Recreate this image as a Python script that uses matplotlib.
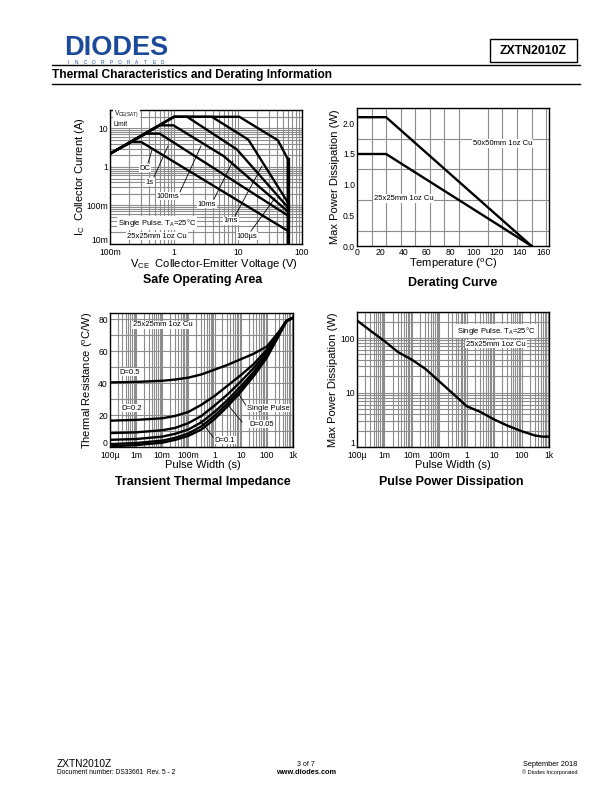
import numpy as np
import matplotlib
matplotlib.use('Agg')
import matplotlib.pyplot as plt
from matplotlib.patches import Rectangle
from matplotlib.lines import Line2D
from matplotlib.ticker import FixedLocator, NullFormatter, LogLocator
from matplotlib.transforms import ScaledTranslation

plt.rcParams['font.family'] = ['Liberation Sans', 'DejaVu Sans']
plt.rcParams['mathtext.fontset'] = 'custom'
plt.rcParams['mathtext.rm'] = 'Liberation Sans'
plt.rcParams['mathtext.it'] = 'Liberation Sans'

# ---------------- Safe Operating Area data (V, A) ----------------
soa_dc_v = [0.1, 0.218, 0.31, 60]
soa_dc_i = [2.2, 4.4, 4.4, 0.022]
soa_1s_v = [0.1, 0.365, 0.6, 60]
soa_1s_i = [2.2, 7.3, 7.3, 0.055]
soa_100ms_v = [0.1, 0.6, 0.98, 6.0, 60]
soa_100ms_i = [2.2, 12, 12, 1.9, 0.07]
soa_10ms_v = [0.1, 1.0, 1.6, 9.6, 60]
soa_10ms_i = [2.2, 20, 20, 2.85, 0.09]
soa_1ms_v = [0.1, 1.0, 3.9, 14.5, 60]
soa_1ms_i = [2.2, 20, 20, 5.1, 0.12]
soa_100us_v = [0.1, 1.0, 10.5, 42, 60, 60]
soa_100us_i = [2.2, 20, 20, 4.9, 1.6, 0.01]

# ---------------- Derating data ----------------
der_t = [0, 25, 150]
der_50 = [2.1, 2.1, 0.0]
der_25 = [1.5, 1.5, 0.0]

# ---------------- Transient thermal impedance (s, degC/W) ----------------
tti_t = [1e-4, 1e-3, 1e-2, 3.16e-2, 1e-1, 3.16e-1, 1, 3.16, 10, 31.6, 100, 316, 562, 1000]
tti_d05 = [40.5, 40.8, 41.5, 42.3, 43.5, 45.5, 48.5, 51.5, 55, 58.5, 63, 73, 79, 81]
tti_d02 = [16.5, 17, 18, 19.5, 22, 26.5, 32, 38.5, 45, 52, 61, 73, 79, 81]
tti_d01 = [8.7, 9.2, 10.5, 12, 15, 19.5, 26, 33, 41, 49.5, 59.5, 72.5, 79, 81]
tti_d005 = [4.5, 5, 6.5, 8.3, 11, 15.5, 22, 29.5, 38, 47, 58, 72, 79, 81]
tti_d002 = [1.8, 2.5, 4, 5.8, 8.5, 13, 19.5, 27.5, 36, 45.5, 57, 71.5, 79, 81]
tti_single = [0.4, 1.2, 2.7, 4.5, 7, 11, 17.5, 25.5, 34.5, 44.5, 56, 71, 79, 81]

# ---------------- Pulse power dissipation (s, W) ----------------
ppd_t = [1e-4, 3.16e-4, 1e-3, 3.16e-3, 1e-2, 3.16e-2, 1e-1, 3.16e-1, 1, 3.16, 10, 31.6, 100, 316, 562, 1000]
ppd_p = [210, 135, 88, 55, 40, 27, 16, 9.5, 5.6, 4.4, 3.2, 2.45, 1.95, 1.62, 1.55, 1.55]

# tick labels
soa_xlabels = ['100m', '1', '10', '100']
soa_ylabels = ['10m', '100m', '1', '10']
time_labels = ['100\u00b5', '1m', '10m', '100m', '1', '10', '100', '1k']

W, H = 612, 792
fig = plt.figure(figsize=(W / 100, H / 100), dpi=100)

def fx(x):
    return x / W

def fy(y):
    return 1 - y / H

def ax_at(l, t, r, b):
    return fig.add_axes([l / W, 1 - b / H, (r - l) / W, (b - t) / H])

GRID = '#8c8c8c'
CLW = 1.7
TICKFS = 6.2
LABFS = 8.0
TITFS = 8.9

def style(ax):
    for s in ax.spines.values():
        s.set_linewidth(1.0)
        s.set_color('black')
    ax.tick_params(which='both', length=0, pad=1.5, labelsize=TICKFS)

def log_minor_grid(axis_obj):
    axis_obj.set_minor_locator(LogLocator(base=10, subs=np.arange(2, 10), numticks=20))
    axis_obj.set_minor_formatter(NullFormatter())

def lift_first_ylabel(ax, pts=3.0):
    lab = ax.get_yticklabels()[0]
    lab.set_transform(lab.get_transform() + ScaledTranslation(0, pts / 72, fig.dpi_scale_trans))

# ---------------- Header ----------------
fig.text(fx(64), fy(55), 'DIODES', fontsize=19.5, fontweight='bold', color='#1b4a9b',
         ha='left', va='baseline', family='Liberation Sans')
for k, ch in enumerate('INCORPORATED'):
    fig.text(fx(68 + k * 8.6), fy(62.2), ch, fontsize=3.4, color='#1b4a9b',
             ha='center', va='center')
fig.patches.append(Rectangle((fx(490), fy(62)), (577 - 490) / W, (62 - 39) / H,
                             transform=fig.transFigure, fill=False, lw=1.0, ec='black'))
fig.text(fx(533), fy(50.5), 'ZXTN2010Z', fontsize=8.8, fontweight='bold', ha='center', va='center')
fig.add_artist(Line2D([fx(52), fx(580)], [fy(65), fy(65)], lw=1.0, color='black'))
fig.text(fx(52), fy(75), 'Thermal Characteristics and Derating Information', fontsize=8.6,
         fontweight='bold', ha='left', va='center')
fig.add_artist(Line2D([fx(52), fx(580)], [fy(84), fy(84)], lw=1.0, color='black'))

# ---------------- Safe Operating Area ----------------
ax1 = ax_at(110, 110, 302, 244)
ax1.set_xscale('log'); ax1.set_yscale('log')
ax1.set_xlim(0.1, 100); ax1.set_ylim(0.01, 30)
ax1.xaxis.set_major_locator(FixedLocator([0.1, 1, 10, 100]))
ax1.yaxis.set_major_locator(FixedLocator([0.01, 0.1, 1, 10]))
ax1.set_xticklabels(soa_xlabels); ax1.set_yticklabels(soa_ylabels)
log_minor_grid(ax1.xaxis); log_minor_grid(ax1.yaxis)
ax1.grid(True, which='both', color=GRID, lw=0.8)
style(ax1)
ax1.tick_params(axis='x', pad=3)
lift_first_ylabel(ax1)
for v, i in [(soa_dc_v, soa_dc_i), (soa_1s_v, soa_1s_i), (soa_100ms_v, soa_100ms_i),
             (soa_10ms_v, soa_10ms_i), (soa_1ms_v, soa_1ms_i), (soa_100us_v, soa_100us_i)]:
    ax1.plot(v, i, color='black', lw=CLW, solid_joinstyle='miter', zorder=3)
ax1.plot([60, 60], [0.01, 1.6], color='black', lw=2.4, zorder=3)

def soa_pt(x, y):
    return ((x - 110) / 192, (244 - y) / 134)

bb = dict(facecolor='white', edgecolor='none', pad=0.6)
ax1.text(*soa_pt(114, 118), 'V$_{\\rm CE(SAT)}$\nLimit', transform=ax1.transAxes, fontsize=4.8,
         ha='left', va='center', bbox=bb, zorder=4, linespacing=1.3)
soa_labels = [('DC', (145, 168), (148, 163), (152, 150)),
              ('1s', (150, 182), (154, 177), (168, 146)),
              ('100ms', (168, 196), (180, 192), (201, 146)),
              ('10ms', (207, 204), (214, 199), (233, 161)),
              ('1ms', (231, 221), (235, 216), (262, 166)),
              ('100\u00b5s', (247, 236), (251, 231), (275, 198))]
for txt, lp, p0, p1 in soa_labels:
    ax1.plot([soa_pt(*p0)[0], soa_pt(*p1)[0]], [soa_pt(*p0)[1], soa_pt(*p1)[1]],
             transform=ax1.transAxes, color='black', lw=0.6, zorder=4)
    ax1.text(*soa_pt(*lp), txt, transform=ax1.transAxes, fontsize=5.5, ha='center', va='center',
             bbox=bb, zorder=5)
ax1.text(*soa_pt(157, 223), 'Single Pulse. T$_{\\rm A}$=25\u00b0C', transform=ax1.transAxes,
         fontsize=5.5, ha='center', va='center', bbox=bb, zorder=5)
ax1.text(*soa_pt(157, 236), '25x25mm 1oz Cu', transform=ax1.transAxes,
         fontsize=5.5, ha='center', va='center', bbox=bb, zorder=5)
fig.text(fx(80), fy(177), 'I$_{\\rm C}$  Collector Current (A)', rotation=90, fontsize=LABFS,
         ha='center', va='center')
fig.text(fx(214), fy(264), 'V$_{\\rm CE}$  Collector-Emitter Voltage (V)', fontsize=LABFS,
         ha='center', va='center')
fig.text(fx(203), fy(280), 'Safe Operating Area', fontsize=TITFS, fontweight='bold',
         ha='center', va='center')

# ---------------- Derating Curve ----------------
ax2 = ax_at(357, 108, 549, 246)
ax2.set_xlim(0, 165); ax2.set_ylim(0, 2.25)
ax2.set_xticks(np.arange(0, 161, 20))
ax2.set_yticks([0, 0.5, 1.0, 1.5, 2.0])
ax2.set_yticklabels(['0.0', '0.5', '1.0', '1.5', '2.0'])
ax2.set_xticks(np.arange(0, 165, 12.5), minor=True)
ax2.set_yticks(np.arange(0, 2.26, 0.25), minor=True)
ax2.grid(False)
ax2.grid(True, which='minor', color=GRID, lw=0.8)
style(ax2)
ax2.plot(der_t, der_50, color='black', lw=CLW, zorder=3)
ax2.plot(der_t, der_25, color='black', lw=CLW, zorder=3)
ax2.text(125, 1.67, '50x50mm 1oz Cu', fontsize=5.5, ha='center', va='center', bbox=bb, zorder=4)
ax2.text(40, 0.78, '25x25mm 1oz Cu', fontsize=5.5, ha='center', va='center', bbox=bb, zorder=4)
fig.text(fx(335), fy(177), 'Max Power Dissipation (W)', rotation=90, fontsize=LABFS,
         ha='center', va='center')
fig.text(fx(453), fy(264), 'Temperature ($^{\\rm o}$C)', fontsize=LABFS, ha='center', va='center')
fig.text(fx(453), fy(283), 'Derating Curve', fontsize=TITFS, fontweight='bold',
         ha='center', va='center')

# ---------------- Transient Thermal Impedance ----------------
ax3 = ax_at(110, 313, 293, 447)
ax3.set_xscale('log')
ax3.set_xlim(1e-4, 1e3); ax3.set_ylim(0, 84)
ax3.xaxis.set_major_locator(FixedLocator([1e-4, 1e-3, 1e-2, 1e-1, 1, 10, 100, 1000]))
ax3.set_xticklabels(time_labels)
log_minor_grid(ax3.xaxis)
ax3.set_yticks([0, 20, 40, 60, 80])
ax3.set_yticks(np.arange(0, 85, 10), minor=True)
ax3.grid(True, which='both', color=GRID, lw=0.8)
style(ax3)
ax3.tick_params(axis='x', pad=3)
lift_first_ylabel(ax3)
for r in [tti_d05, tti_d02, tti_d01, tti_d005, tti_d002, tti_single]:
    ax3.plot(tti_t, r, color='black', lw=CLW, zorder=3)

def tti_pt(x, y):
    return ((x - 110) / 183, (447 - y) / 134)

ax3.text(*tti_pt(163, 325), '25x25mm 1oz Cu', transform=ax3.transAxes, fontsize=5.5,
         ha='center', va='center', bbox=bb, zorder=5)
ax3.text(*tti_pt(130, 372), 'D=0.5', transform=ax3.transAxes, fontsize=5.5,
         ha='center', va='center', bbox=bb, zorder=5)
ax3.text(*tti_pt(132, 408), 'D=0.2', transform=ax3.transAxes, fontsize=5.5,
         ha='center', va='center', bbox=bb, zorder=5)
tti_labels = [('Single Pulse', (268, 408), (247, 407), (238, 393)),
              ('D=0.05', (262, 424), (242, 422), (228, 405)),
              ('D=0.1', (225, 440), (213, 437), (200, 420))]
for txt, lp, p0, p1 in tti_labels:
    ax3.plot([tti_pt(*p0)[0], tti_pt(*p1)[0]], [tti_pt(*p0)[1], tti_pt(*p1)[1]],
             transform=ax3.transAxes, color='black', lw=0.6, zorder=4)
    ax3.text(*tti_pt(*lp), txt, transform=ax3.transAxes, fontsize=5.5, ha='center', va='center',
             bbox=bb, zorder=5)
fig.text(fx(88), fy(380), 'Thermal Resistance ($^{\\rm o}$C/W)', rotation=90, fontsize=LABFS,
         ha='center', va='center')
fig.text(fx(203), fy(465), 'Pulse Width (s)', fontsize=LABFS, ha='center', va='center')
fig.text(fx(203), fy(482), 'Transient Thermal Impedance', fontsize=TITFS, fontweight='bold',
         ha='center', va='center')

# ---------------- Pulse Power Dissipation ----------------
ax4 = ax_at(357, 312, 549, 447)
ax4.set_xscale('log'); ax4.set_yscale('log')
ax4.set_xlim(1e-4, 1e3); ax4.set_ylim(1, 300)
ax4.xaxis.set_major_locator(FixedLocator([1e-4, 1e-3, 1e-2, 1e-1, 1, 10, 100, 1000]))
ax4.set_xticklabels(time_labels)
ax4.yaxis.set_major_locator(FixedLocator([1, 10, 100]))
ax4.set_yticklabels(['1', '10', '100'])
log_minor_grid(ax4.xaxis); log_minor_grid(ax4.yaxis)
ax4.grid(True, which='both', color=GRID, lw=0.8)
style(ax4)
ax4.tick_params(axis='x', pad=3)
lift_first_ylabel(ax4)
ax4.plot(ppd_t, ppd_p, color='black', lw=CLW, zorder=3)

def ppd_pt(x, y):
    return ((x - 357) / 192, (447 - y) / 135)

ax4.text(*ppd_pt(496, 331), 'Single Pulse. T$_{\\rm A}$=25\u00b0C', transform=ax4.transAxes,
         fontsize=5.5, ha='center', va='center', bbox=bb, zorder=5)
ax4.text(*ppd_pt(496, 344), '25x25mm 1oz Cu', transform=ax4.transAxes,
         fontsize=5.5, ha='center', va='center', bbox=bb, zorder=5)
fig.text(fx(333), fy(380), 'Max Power Dissipation (W)', rotation=90, fontsize=LABFS,
         ha='center', va='center')
fig.text(fx(453), fy(465), 'Pulse Width (s)', fontsize=LABFS, ha='center', va='center')
fig.text(fx(451), fy(482), 'Pulse Power Dissipation', fontsize=TITFS, fontweight='bold',
         ha='center', va='center')

# ---------------- Footer ----------------
fig.text(fx(57), fy(764), 'ZXTN2010Z', fontsize=7.3, ha='left', va='center')
fig.text(fx(57), fy(773), 'Document number: DS33661  Rev. 5 - 2', fontsize=4.8, ha='left', va='center')
fig.text(fx(306), fy(764), '3 of 7', fontsize=5, ha='center', va='center')
fig.text(fx(306), fy(772), 'www.diodes.com', fontsize=5.3, fontweight='bold', ha='center', va='center')
fig.text(fx(577), fy(764), 'September 2018', fontsize=5.3, ha='right', va='center')
fig.text(fx(577), fy(772), '\u00a9 Diodes Incorporated', fontsize=4, ha='right', va='center')

fig.savefig('out.png', dpi=100)
